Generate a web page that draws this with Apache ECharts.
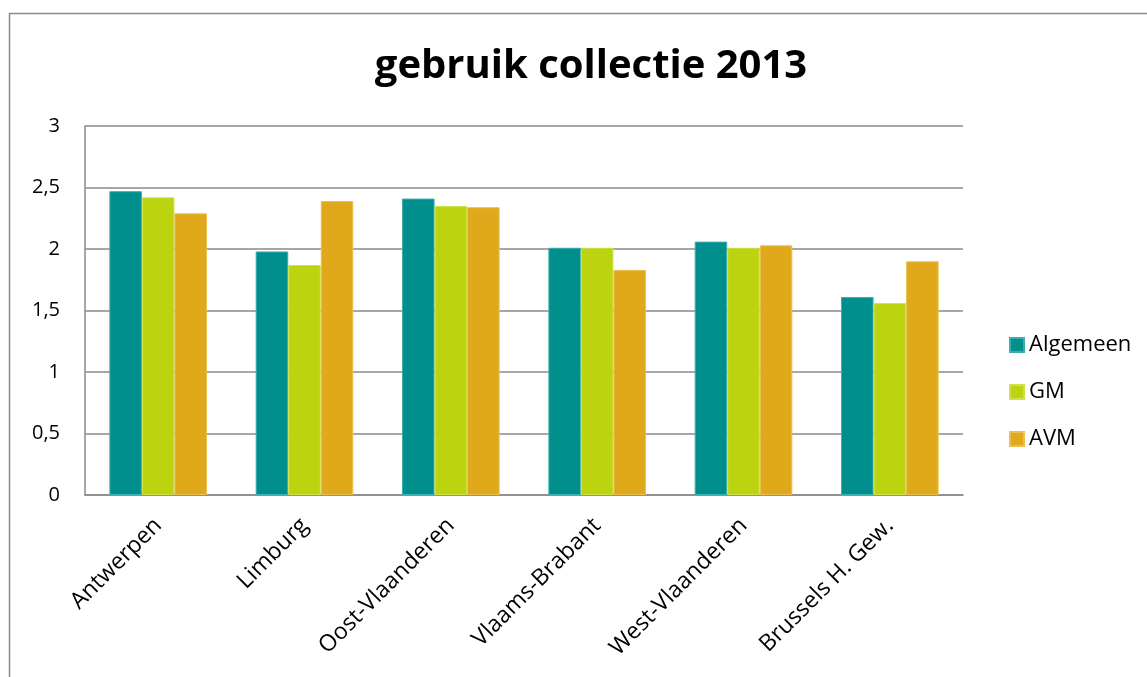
<!DOCTYPE html>
<html>
<head>
<meta charset="utf-8">
<script src="https://cdn.jsdelivr.net/npm/echarts@6/dist/echarts.min.js"></script>
<style>
html,body{margin:0;padding:0;background:#fff;overflow:hidden;}
#chart{width:1147px;height:677px;}
</style>
</head>
<body>
<div id="chart"></div>
<script>
const categories = ['Antwerpen', 'Limburg', 'Oost-Vlaanderen', 'Vlaams-Brabant', 'West-Vlaanderen', 'Brussels H. Gew.'];
const algemeen = [2.47, 1.98, 2.41, 2.01, 2.06, 1.61];
const gm = [2.42, 1.87, 2.35, 2.01, 2.01, 1.56];
const avm = [2.29, 2.39, 2.34, 1.83, 2.03, 1.90];
const seriesNames = ['Algemeen', 'GM', 'AVM'];
const colors = ['#008F8C', '#BBD40F', '#E0A91B'];
const borders = ['#3AAFAC', '#D0E24A', '#EBC050'];

const chart = echarts.init(document.getElementById('chart'));
const font = '"Open Sans", sans-serif';
const data = [algemeen, gm, avm];
chart.setOption({
  animation: false,
  textStyle: {fontFamily: font},
  title: {
    text: 'gebruik collectie 2013',
    left: 586, top: 42, textAlign: 'center',
    textStyle: {fontSize: 40, fontWeight: 'bold', color: '#000', fontFamily: font}
  },
  graphic: [{
    type: 'rect', shape: {x: 9.5, y: 13.5, width: 1300, height: 800},
    style: {fill: 'none', stroke: '#8a8a8a', lineWidth: 1.5}, silent: true, z: -10
  }],
  legend: {
    orient: 'vertical', left: 1004, top: 329, itemGap: 25,
    itemWidth: 14, itemHeight: 14, icon: 'rect',
    textStyle: {fontSize: 22, color: '#000', fontFamily: font},
    data: seriesNames
  },
  grid: {left: 85, top: 126, right: 184, bottom: 182, containLabel: false},
  xAxis: {
    type: 'category', data: categories,
    axisLine: {lineStyle: {color: '#8a8a8a', width: 1.5}},
    axisTick: {show: false},
    axisLabel: {rotate: 45, fontSize: 23, color: '#000', fontFamily: font, margin: 27, interval: 0}
  },
  yAxis: {
    type: 'value', min: 0, max: 3, interval: 0.5,
    axisLine: {show: true, lineStyle: {color: '#8a8a8a', width: 1.5}},
    axisTick: {show: false},
    splitLine: {lineStyle: {color: '#8a8a8a', width: 1.5}},
    axisLabel: {
      fontSize: 20, color: '#000', fontFamily: font, margin: 25,
      formatter: v => String(v).replace('.', ',')
    }
  },
  series: seriesNames.map((n, i) => ({
    name: n, type: 'bar', data: data[i],
    barGap: '0%', barCategoryGap: '33.3%',
    itemStyle: {color: colors[i], borderColor: borders[i], borderWidth: 1}
  }))
});
</script>
</body>
</html>
